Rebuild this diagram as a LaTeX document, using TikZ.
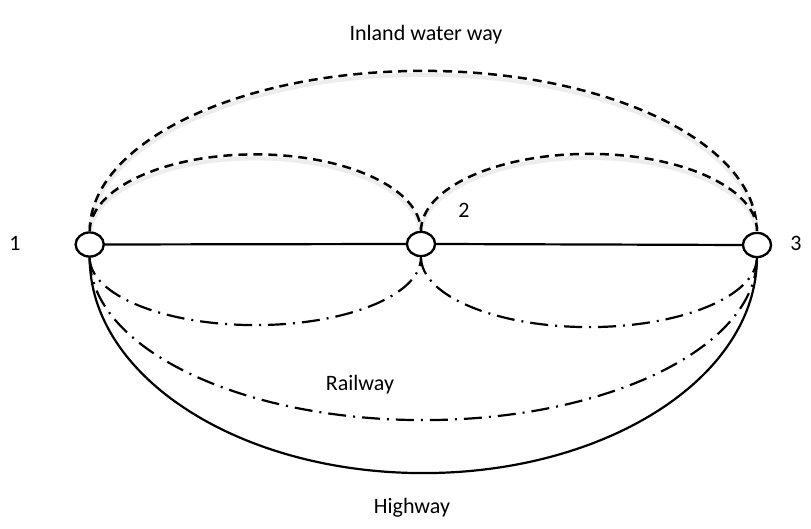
\documentclass[tikz,border=0pt]{standalone}
\usepackage{fontspec}
\setmainfont{Carlito}
\usetikzlibrary{shapes.geometric}
\begin{document}
\begin{tikzpicture}[x=1pt,y=1pt,
  stn/.style={draw, ellipse, line width=2.2pt, minimum width=28pt, minimum height=24pt, inner sep=0pt, fill=white},
  lbl/.style={font=\fontsize{22}{26}\selectfont, inner sep=0pt},
  water/.style={line width=2.5pt, dash pattern=on 9pt off 6pt,
     preaction={draw=black!7, line width=4pt, solid, transform canvas={yshift=-4pt}}},
  rail/.style={line width=2.2pt, dash pattern=on 18pt off 7pt on 2pt off 7pt},
  road/.style={line width=2.2pt}]
\useasboundingbox (0,0) rectangle (811,529);
\node[stn] (n1) at (89.7,284.5) {};
\node[stn] (n2) at (421,285) {};
\node[stn] (n3) at (757,284) {};
% waterways
\draw[water] (n1.north) arc[start angle=180, end angle=0, x radius=333.6, y radius=160.5];
\draw[water] (n1.north) arc[start angle=180, end angle=0, x radius=165.6, y radius=77];
\draw[water] (n2.north) arc[start angle=180, end angle=0, x radius=168, y radius=77];
% highways straight
\draw[road] (n1.east) -- (n2.west);
\draw[road] (n2.east) -- (n3.west);
% railways
\draw[rail] (n1.south) arc[start angle=180, end angle=360, x radius=165.6, y radius=67.5];
\draw[rail] (n2.south) arc[start angle=180, end angle=360, x radius=168, y radius=70];
\draw[rail] (n1.south) arc[start angle=180, end angle=360, x radius=333.6, y radius=162.5];
% highway big
\draw[road] (n1.south) arc[start angle=180, end angle=360, x radius=333.6, y radius=215.5];
% redraw stations on top
\node[stn] at (n1) {};
\node[stn] at (n2) {};
\node[stn] at (n3) {};
% labels
\node[lbl] (l1) at (15,286) {1};
\node[lbl] (l2) at (464,319) {2};
\node[lbl] (l3) at (796,286) {3};
\node[lbl] (lw) at (426,494) {Inland water way};
\node[lbl] (lr) at (360,144) {Railway};
\node[lbl] (lh) at (412,21) {Highway};
\end{tikzpicture}
\end{document}
